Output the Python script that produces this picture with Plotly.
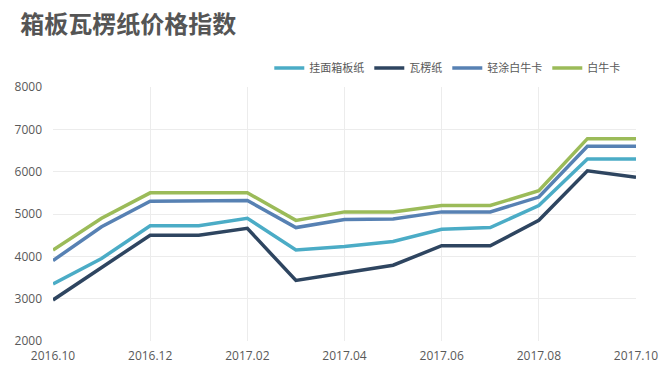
import plotly.graph_objects as go

months = ["2016.10", "2016.11", "2016.12", "2017.01", "2017.02", "2017.03", "2017.04",
          "2017.05", "2017.06", "2017.07", "2017.08", "2017.09", "2017.10"]
tick_labels = ["2016.10", "2016.12", "2017.02", "2017.04", "2017.06", "2017.08", "2017.10"]

guamian = [3350, 3950, 4720, 4720, 4900, 4150, 4230, 4350, 4640, 4680, 5200, 6300, 6300]
walengzhi = [2970, 3740, 4500, 4500, 4660, 3430, 3600, 3790, 4250, 4250, 4850, 6020, 5870]
qingtu = [3900, 4700, 5300, 5300, 5320, 4680, 4870, 4880, 5050, 5050, 5400, 6600, 6600]
bainiuka = [4150, 4900, 5500, 5500, 5500, 4850, 5050, 5050, 5200, 5200, 5550, 6780, 6780]

series = [
    ("挂面箱板纸", guamian, "#4bacc6"),
    ("瓦楞纸", walengzhi, "#2e4560"),
    ("轻涂白牛卡", qingtu, "#5781b3"),
    ("白牛卡", bainiuka, "#9bbb59"),
]

font_family = "Noto Sans CJK SC, Noto Sans, sans-serif"
tick_family = "Open Sans, Noto Sans, sans-serif"

fig = go.Figure()
for name, vals, color in series:
    fig.add_trace(go.Scatter(x=months, y=vals, name=name, mode="lines",
                             line=dict(color=color, width=3.5)))

fig.update_layout(
    width=672, height=385,
    margin=dict(l=53, r=36, t=87, b=44),
    paper_bgcolor="white", plot_bgcolor="white",
    font=dict(family=font_family, color="#595959", size=11),
    title=dict(text="<b>箱板瓦楞纸价格指数</b>", x=0.03, xanchor="left", y=0.935, yanchor="middle",
               font=dict(size=24, color="#555555", family=font_family)),
    legend=dict(orientation="h", x=0.371, xanchor="left", y=1.075, yanchor="middle",
                font=dict(size=11, color="#595959"), itemwidth=30,
                bgcolor="rgba(0,0,0,0)"),
    showlegend=True,
)
fig.update_xaxes(type="category", range=[0, 12], tickvals=tick_labels, ticktext=tick_labels,
                 showgrid=True, gridcolor="#ececec", gridwidth=1, zeroline=False,
                 showline=False, ticks="", automargin=False, ticklabelstandoff=6,
                 tickfont=dict(size=12, color="#595959", family=tick_family))
fig.update_yaxes(range=[2000, 8000], dtick=1000, showgrid=True, gridcolor="#ececec",
                 gridwidth=1, zeroline=False, showline=False, ticks="", automargin=False,
                 ticklabelstandoff=10,
                 tickfont=dict(size=12, color="#595959", family=tick_family))

fig.write_html("out.html", config={"displayModeBar": False},
               post_script="document.body.style.margin='0';")
